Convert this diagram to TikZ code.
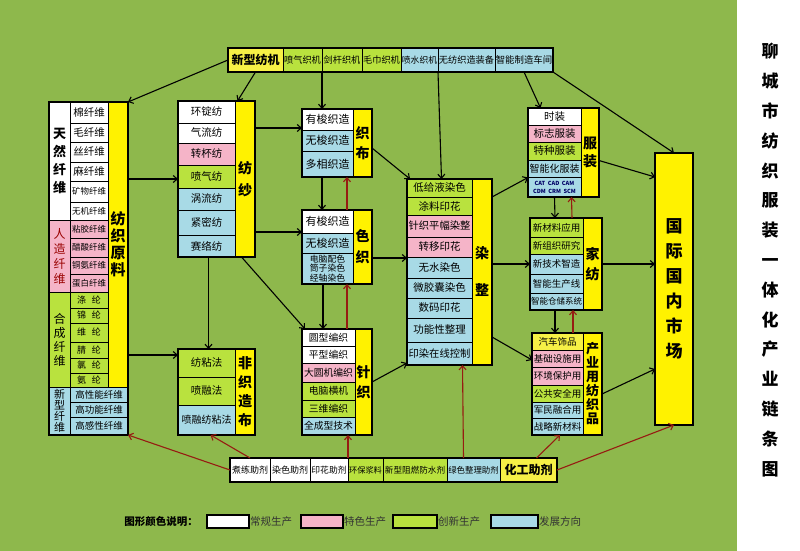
\documentclass[tikz,border=0pt]{standalone}
\usepackage{fontspec}
\setmainfont{Noto Sans CJK SC}
\usetikzlibrary{arrows.meta,calc}
\definecolor{bgc}{RGB}{142,184,76}
\definecolor{pinkc}{RGB}{245,180,200}
\definecolor{limec}{RGB}{185,226,62}
\definecolor{bluec}{RGB}{168,218,230}
\definecolor{yelc}{RGB}{255,242,0}
\definecolor{yel2}{RGB}{246,240,70}
\definecolor{redc}{RGB}{150,28,18}
\newcommand\fs[1]{\fontsize{#1}{#1}\selectfont}
\newcommand\vfs[2]{\fontsize{#1}{#2}\selectfont}
\newcommand\mkcell[8][]{\node[cellbox,fill=#7,minimum width={#5-#3},minimum height={#6-#4},#1] (#2) at ({(#3+#5)/2},{(#4+#6)/2}) {#8};}
\newcommand\mkframe[5]{\node[framebox,minimum width={#4-#2},minimum height={#5-#3}] (#1) at ({(#2+#4)/2},{(#3+#5)/2}) {};}
\begin{document}
\begin{tikzpicture}[x=1pt,y=-1pt,
 cellbox/.style={draw=black,line width=0.9pt,inner sep=0pt,outer sep=0pt,align=center,text=black,font=\fs{10.5}},
 framebox/.style={draw=black,line width=1.8pt,inner sep=0pt,outer sep=0pt},
 strip/.style={font=\vfs{14}{20}\bfseries},
 arr/.style={draw=black,line width=1.1pt,-{Straight Barb[length=4pt,width=7pt]}},
 rarr/.style={draw=redc,line width=1.1pt,-{Straight Barb[length=4pt,width=7pt]}}]
\fill[white] (0,0) rectangle (800,551);
\fill[bgc] (0,0) rectangle (737,551);
\useasboundingbox (0,0) rectangle (800,551);

% top row
\mkcell[font=\fs{12}\bfseries]{m1}{228}{48}{283}{72}{yel2}{新型纺机}
\mkcell[font=\fs{9.2}]{m2}{283}{48}{322}{72}{limec}{喷气织机}
\mkcell[font=\fs{9.2}]{m3}{322}{48}{362}{72}{limec}{剑杆织机}
\mkcell[font=\fs{9.2}]{m4}{362}{48}{401}{72}{limec}{毛巾织机}
\mkcell[font=\fs{8.8}]{m5}{401}{48}{438}{72}{bluec}{喷水织机}
\mkcell[font=\fs{9.2}]{m6}{438}{48}{495}{72}{bluec}{无纺织造装备}
\mkcell[font=\fs{9.4}]{m7}{495}{48}{553}{72}{bluec}{智能制造车间}
\mkframe{toprow}{228}{48}{553}{72}

% raw materials
\mkcell[font=\vfs{13}{18}\bfseries]{natcat}{49}{102}{70}{220}{white}{天\\然\\纤\\维}
\mkcell{a1}{70}{102}{108}{123}{white}{棉纤维}
\mkcell{a2}{70}{123}{108}{142}{white}{毛纤维}
\mkcell{a3}{70}{142}{108}{162}{white}{丝纤维}
\mkcell{a4}{70}{162}{108}{181}{white}{麻纤维}
\mkcell[font=\fs{8.5}]{a5}{70}{181}{108}{202}{white}{矿物纤维}
\mkcell[font=\fs{8.5}]{a6}{70}{202}{108}{220}{white}{无机纤维}
\mkcell[font=\vfs{12}{15},text=red!60!black]{artcat}{49}{220}{70}{292}{pinkc}{人\\造\\纤\\维}
\mkcell[font=\fs{8.5}]{b1}{70}{220}{108}{238}{pinkc}{粘胶纤维}
\mkcell[font=\fs{8.5}]{b2}{70}{238}{108}{257}{pinkc}{醋酸纤维}
\mkcell[font=\fs{8.5}]{b3}{70}{257}{108}{274}{pinkc}{铜氨纤维}
\mkcell[font=\fs{8.5}]{b4}{70}{274}{108}{292}{pinkc}{蛋白纤维}
\mkcell[font=\vfs{12}{14}]{syncat}{49}{292}{70}{387}{limec}{合\\成\\纤\\维}
\mkcell[font=\fs{9}]{s1}{70}{292}{108}{308}{limec}{涤\hspace{6pt}纶}
\mkcell[font=\fs{9}]{s2}{70}{308}{108}{323}{limec}{锦\hspace{6pt}纶}
\mkcell[font=\fs{9}]{s3}{70}{323}{108}{342}{limec}{维\hspace{6pt}纶}
\mkcell[font=\fs{9}]{s4}{70}{342}{108}{358}{limec}{腈\hspace{6pt}纶}
\mkcell[font=\fs{9}]{s5}{70}{358}{108}{373}{limec}{氯\hspace{6pt}纶}
\mkcell[font=\fs{9}]{s6}{70}{373}{108}{387}{limec}{氨\hspace{6pt}纶}
\mkcell[font=\vfs{11}{11}]{newcat}{49}{387}{70}{435}{bluec}{新\\型\\纤\\维}
\mkcell[font=\fs{9.5}]{n1}{70}{387}{128}{402}{bluec}{高性能纤维}
\mkcell[font=\fs{9.5}]{n2}{70}{402}{128}{417}{bluec}{高功能纤维}
\mkcell[font=\fs{9.5}]{n3}{70}{417}{128}{435}{bluec}{高感性纤维}
\mkcell[strip,font=\vfs{15}{17}\bfseries]{rawstrip}{108}{102}{128}{387}{yelc}{纺\\织\\原\\料}
\mkframe{raw}{49}{102}{128}{435}

% spinning
\mkcell{p1}{178}{101}{235}{123}{white}{环锭纺}
\mkcell{p2}{178}{123}{235}{143}{white}{气流纺}
\mkcell{p3}{178}{143}{235}{165}{pinkc}{转杯纺}
\mkcell{p4}{178}{165}{235}{188}{limec}{喷气纺}
\mkcell{p5}{178}{188}{235}{210}{bluec}{涡流纺}
\mkcell{p6}{178}{210}{235}{235}{bluec}{紧密纺}
\mkcell{p7}{178}{235}{235}{257}{bluec}{赛络纺}
\mkcell[strip,font=\vfs{14}{22}\bfseries]{spinstrip}{235}{101}{255}{257}{yelc}{纺\\纱}
\mkframe{spin}{178}{101}{255}{257}

% weaving
\mkcell[font=\fs{11}]{w1}{302}{109}{353}{130}{white}{有梭织造}
\mkcell[font=\fs{11}]{w2}{302}{130}{353}{151}{bluec}{无梭织造}
\mkcell[font=\fs{11}]{w3}{302}{151}{353}{177}{bluec}{多相织造}
\mkcell[strip]{weavestrip}{353}{109}{372}{177}{yelc}{织\\布}
\mkframe{weave}{302}{109}{372}{177}

% colour weaving
\mkcell[font=\fs{11}]{cw1}{302}{210}{353}{233}{white}{有梭织造}
\mkcell[font=\fs{11}]{cw2}{302}{233}{353}{253}{bluec}{无梭织造}
\mkcell[font=\vfs{8.8}{9.6}]{cw3}{302}{253}{353}{284}{bluec}{电脑配色\\筒子染色\\经轴染色}
\mkcell[strip,font=\vfs{14}{21}\bfseries]{cwstrip}{353}{210}{372}{284}{yelc}{色\\织}
\mkframe{cweave}{302}{210}{372}{284}

% knitting
\mkcell[font=\fs{9.8}]{k1}{302}{329}{355}{346}{white}{圆型编织}
\mkcell[font=\fs{9.8}]{k2}{302}{346}{355}{363}{white}{平型编织}
\mkcell[font=\fs{9.8}]{k3}{302}{363}{355}{382}{pinkc}{大圆机编织}
\mkcell[font=\fs{9.8}]{k4}{302}{382}{355}{400}{limec}{电脑横机}
\mkcell[font=\fs{9.8}]{k5}{302}{400}{355}{417}{limec}{三维编织}
\mkcell[font=\fs{9.8}]{k6}{302}{417}{355}{435}{bluec}{全成型技术}
\mkcell[strip]{knitstrip}{355}{329}{372}{435}{yelc}{针\\织}
\mkframe{knit}{302}{329}{372}{435}

% nonwoven
\mkcell{nw1}{178}{349}{235}{377}{limec}{纺粘法}
\mkcell{nw2}{178}{377}{235}{405}{limec}{喷融法}
\mkcell[font=\fs{10}]{nw3}{178}{405}{235}{435}{bluec}{喷融纺粘法}
\mkcell[strip,font=\vfs{14}{19}\bfseries]{nwstrip}{235}{349}{255}{435}{yelc}{非\\织\\造\\布}
\mkframe{nonw}{178}{349}{255}{435}

% dyeing & finishing
\mkcell{d1}{407}{179}{472}{197}{limec}{低给液染色}
\mkcell{d2}{407}{197}{472}{215}{limec}{涂料印花}
\mkcell[font=\fs{10.3}]{d3}{407}{215}{472}{237}{pinkc}{针织平幅染整}
\mkcell{d4}{407}{237}{472}{257}{pinkc}{转移印花}
\mkcell{d5}{407}{257}{472}{278}{bluec}{无水染色}
\mkcell{d6}{407}{278}{472}{298}{bluec}{微胶囊染色}
\mkcell{d7}{407}{298}{472}{318}{bluec}{数码印花}
\mkcell{d8}{407}{318}{472}{342}{bluec}{功能性整理}
\mkcell[font=\fs{10.3}]{d9}{407}{342}{472}{365}{bluec}{印染在线控制}
\mkcell[strip,font=\vfs{14}{37}\bfseries]{dyestrip}{472}{179}{492}{365}{yelc}{染\\整}
\mkframe{dye}{407}{179}{492}{365}

% clothing
\mkcell{f1}{528}{108}{581}{125}{white}{时装}
\mkcell{f2}{528}{125}{581}{142}{pinkc}{标志服装}
\mkcell{f3}{528}{142}{581}{160}{limec}{特种服装}
\mkcell[font=\fs{10}]{f4}{528}{160}{581}{177}{bluec}{智能化服装}
\mkcell[font=\vfs{5.6}{8}\bfseries,text=blue!40!black]{f5}{528}{177}{581}{197}{bluec}{CAT\ \ CAD\ \ CAM\\CDM\ \ CRM\ \ SCM}
\mkcell[strip,font=\vfs{14}{18}\bfseries]{clothstrip}{581}{108}{599}{197}{yelc}{服\\装}
\mkframe{cloth}{528}{108}{599}{197}

% home textiles
\mkcell[font=\fs{9.5}]{g1}{530}{218}{583}{237}{limec}{新材料应用}
\mkcell[font=\fs{9.5}]{g2}{530}{237}{583}{254}{limec}{新组织研究}
\mkcell[font=\fs{9.5}]{g3}{530}{254}{583}{274}{bluec}{新技术智造}
\mkcell[font=\fs{9.5}]{g4}{530}{274}{583}{293}{bluec}{智能生产线}
\mkcell[font=\fs{8.5}]{g5}{530}{293}{583}{310}{bluec}{智能仓储系统}
\mkcell[strip]{homestrip}{583}{218}{602}{310}{yelc}{家\\纺}
\mkframe{home}{530}{218}{602}{310}

% industrial textiles
\mkcell[font=\fs{9.5}]{i1}{532}{333}{583}{350}{yel2}{汽车饰品}
\mkcell[font=\fs{9.5}]{i2}{532}{350}{583}{367}{pinkc}{基础设施用}
\mkcell[font=\fs{9.5}]{i3}{532}{367}{583}{385}{pinkc}{环境保护用}
\mkcell[font=\fs{9.5}]{i4}{532}{385}{583}{402}{limec}{公共安全用}
\mkcell[font=\fs{9.5}]{i5}{532}{402}{583}{418}{bluec}{军民融合用}
\mkcell[font=\fs{9.5}]{i6}{532}{418}{583}{435}{bluec}{战略新材料}
\mkcell[strip,font=\vfs{13}{14}\bfseries]{indstrip}{583}{333}{602}{435}{yelc}{产\\业\\用\\纺\\织\\品}
\mkframe{ind}{532}{333}{602}{435}

% market
\mkcell[line width=1.8pt,font=\vfs{17}{25}\bfseries]{market}{655}{153}{693}{425}{yelc}{国\\际\\国\\内\\市\\场}

% auxiliaries row
\mkcell[font=\fs{9}]{h1}{230}{458}{270}{482}{white}{煮练助剂}
\mkcell[font=\fs{9}]{h2}{270}{458}{310}{482}{white}{染色助剂}
\mkcell[font=\fs{8.8}]{h3}{310}{458}{348}{482}{white}{印花助剂}
\mkcell[font=\fs{8.2}]{h4}{348}{458}{383}{482}{limec}{环保浆料}
\mkcell[font=\fs{8.6}]{h5}{383}{458}{447}{482}{limec}{新型阻燃防水剂}
\mkcell[font=\fs{8.4}]{h6}{447}{458}{500}{482}{bluec}{绿色整理助剂}
\mkcell[font=\fs{12}\bfseries]{h7}{500}{458}{557}{482}{yel2}{化工助剂}
\mkframe{botrow}{230}{458}{557}{482}

% black connectors
\draw[arr] (m1.west) -- (raw.north east);
\draw[arr] (m1.south) -- ([xshift=21pt]spin.north);
\draw[arr] (m2.south east) -- ([xshift=-15pt]weave.north);
\draw[arr] (m6.south west) -- ([xshift=-8pt]dye.north);
\draw[arr] (m7.south) -- ([xshift=-23pt]cloth.north);
\draw[arr] (m7.south east) -- (market.north);
\draw[arr] (raw.east |- spin.west) -- (spin.west);
\coordinate (nwin) at ([yshift=37pt]nonw.west);
\draw[arr] (raw.east |- nwin) -- (nwin);
\coordinate (wvin) at ([yshift=15pt]weave.west);
\draw[arr] (spin.east |- wvin) -- (wvin);
\coordinate (cwin) at ([yshift=15pt]cweave.west);
\draw[arr] (spin.east |- cwin) -- (cwin);
\draw[arr] ([xshift=-8pt]spin.south) -- ([xshift=-8pt]nonw.north);
\draw[arr] ([xshift=25pt]spin.south) -- ([xshift=-32pt]knit.north);
\draw[arr] ([xshift=-15pt]weave.south) -- ([xshift=-15pt]cweave.north);
\draw[arr] ([xshift=-14pt]cweave.south) -- ([xshift=-14pt]knit.north);
\draw[arr] ([yshift=-5pt]weave.east) -- ([xshift=3pt]dye.north west);
\coordinate (dyin) at ([yshift=14pt]dye.west);
\draw[arr] (cweave.east |- dyin) -- (dyin);
\draw[arr] (knit.east) -- ([yshift=2pt]dye.south west);
\draw[arr] ([yshift=75pt]dye.east) -- ([yshift=-25pt]cloth.west);
\draw[arr] (dye.east |- home.west) -- (home.west);
\draw[arr] ([yshift=-65pt]dye.east) -- ([yshift=24pt]ind.west);
\draw[arr] ([xshift=-9pt]cloth.south) -- ([xshift=-11pt]home.north);
\draw[arr] ([xshift=-11pt]home.south) -- ([xshift=-12pt]ind.north);
\draw[arr] ([yshift=-8pt]cloth.east) -- ([yshift=112pt]market.west);
\draw[arr] (home.east) -- (home.east -| market.west);
\draw[arr] ([yshift=-10pt]ind.east) -- ([yshift=-80pt]market.west);

% red connectors (auxiliaries)
\draw[rarr] (h1.west) -- (raw.south east);
\draw[rarr] (h1.north) -- ([xshift=-6pt]nonw.south);
\draw[rarr] (h3.north east) -- ([xshift=11pt]knit.south);
\draw[rarr] ([xshift=10pt]knit.north) -- ([xshift=10pt]cweave.south);
\draw[rarr] ([xshift=10pt]cweave.north) -- ([xshift=10pt]weave.south);
\draw[rarr] ([xshift=-10pt]h6.north) -- ([xshift=13pt]dye.south);
\draw[rarr] ([xshift=8pt]h7.north) -- ([xshift=-7pt]ind.south);
\draw[rarr] ([xshift=6pt]ind.north) -- ([xshift=7pt]home.south);
\draw[rarr] ([xshift=6pt]home.north) -- ([xshift=8pt]cloth.south);
\draw[rarr] (h7.east) -- (market.south);

% legend
\node[anchor=east,font=\fs{10.5}\bfseries,inner sep=0pt] (legt) at (198,521) {图形颜色说明：};
\mkcell[line width=1.8pt]{L1}{207}{515}{249}{528}{white}{}
\node[anchor=west,font=\fs{10.5},text=black!80,inner sep=1pt] (L1t) at (L1.east) {常规生产};
\mkcell[line width=1.8pt]{L2}{301}{515}{343}{528}{pinkc}{}
\node[anchor=west,font=\fs{10.5},text=black!80,inner sep=1pt] (L2t) at (L2.east) {特色生产};
\mkcell[line width=1.8pt]{L3}{393}{515}{437}{528}{limec}{}
\node[anchor=west,font=\fs{10.5},text=black!80,inner sep=1pt] (L3t) at (L3.east) {创新生产};
\mkcell[line width=1.8pt]{L4}{491}{515}{538}{528}{bluec}{}
\node[anchor=west,font=\fs{10.5},text=black!80,inner sep=1pt] (L4t) at (L4.east) {发展方向};

% title
\node[font=\vfs{17}{29.8}\bfseries,align=center] (title) at (770,260) {聊\\城\\市\\纺\\织\\服\\装\\一\\体\\化\\产\\业\\链\\条\\图};
\end{tikzpicture}
\end{document}
